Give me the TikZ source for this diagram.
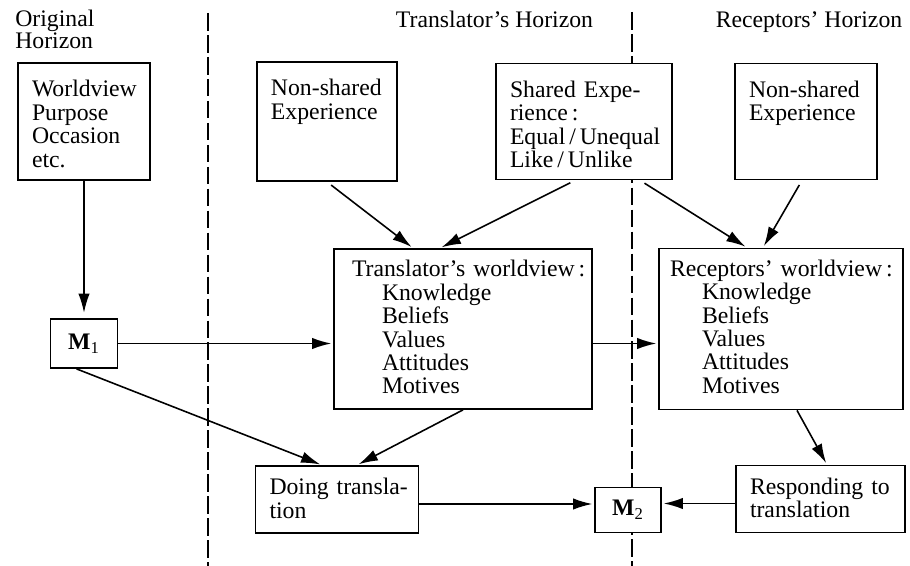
\documentclass[tikz,border=0pt]{standalone}
\usepackage{fontspec}
\setmainfont{Liberation Serif}
\usepackage{tikz}
\usetikzlibrary{positioning}
\usetikzlibrary{arrows.meta}
\tikzset{>=latex}
\hyphenpenalty=10000
\exhyphenpenalty=10000
\tikzstyle{mybox}=[draw, fill=white, line width=1pt, align=left, inner ysep=0pt, inner xsep=0.28cm]
\tikzstyle{upper}=[mybox, text height=0.68cm]
\tikzstyle{worldview}=[mybox, text height=0.56cm]
\tikzstyle{action}=[mybox, text height=0.58cm]
\tikzstyle{message}=[draw, fill=white, line width=1pt, inner sep=0pt]
\tikzstyle{horizon}=[inner sep=0pt]
\tikzstyle{divider}=[line width=1.2pt, dash pattern=on 10pt off 2.5pt]
\tikzstyle{connect arrow}=[-{Latex[length=11pt,width=6.5pt]},line width=0.9pt,shorten >=1pt]

\begin{document}
\begin{tikzpicture}[
    node distance=3cm,
    on grid,
    font=\fontsize{13.5}{13.3}\selectfont]

\useasboundingbox (0,0) rectangle (18.2,-11.32);

% Horizons
\node[horizon, anchor=north west, align=left, font=\fontsize{13.5}{12.3}\selectfont] (orig) at (0.30,-0.20) {Original\\Horizon};
\node[horizon, anchor=base] (trans) at (9.89,-0.56) {Translator's Horizon};
\node[horizon, anchor=base] (recep) at (16.18,-0.56) {Receptors' Horizon};

\coordinate (d1top) at (4.16,-0.26);
\coordinate (d1bot) at (4.16,-11.32);
\coordinate (d2top) at (12.64,-0.24);
\coordinate (d2bot) at (12.64,-11.32);
\draw[divider] (d1top) -- (d1bot);
\draw[divider] (d2top) -- (d2bot);

% Experience
\node[upper, text width=2.08cm, text depth=1.66cm] (wv) at (1.68,-2.43) {Worldview\\Purpose\\Occasion\\etc.};
\node[upper, text width=2.24cm, text depth=1.70cm] (ns1) [right=4.86cm of wv] {Non-shared\\Experience};
\node[upper, text width=2.96cm, text depth=1.64cm] (shared) [right=5.14cm of ns1] {Shared~Expe-\\rience\,:\\Equal\,/\,Unequal\\Like\,/\,Unlike};
\node[upper, text width=2.28cm, text depth=1.64cm] (ns2) [right=4.44cm of shared] {Non-shared\\Experience};

% Worldviews
\node[worldview, inner xsep=0.36cm, text width=4.44cm, text depth=2.64cm] (twv) [below right=4.15cm and 2.72cm of ns1] {Translator's~worldview\,:\\\hspace*{0.6cm}Knowledge\\\hspace*{0.6cm}Beliefs\\\hspace*{0.6cm}Values\\\hspace*{0.6cm}Attitudes\\\hspace*{0.6cm}Motives};
\node[worldview, inner xsep=0.22cm, text width=4.44cm, text depth=2.66cm] (rwv) [right=6.36cm of twv] {Receptors'~worldview\,:\\\hspace*{0.64cm}Knowledge\\\hspace*{0.64cm}Beliefs\\\hspace*{0.64cm}Values\\\hspace*{0.64cm}Attitudes\\\hspace*{0.64cm}Motives};

% Messages
\node[message, minimum width=1.34cm, minimum height=0.98cm] (m1) [below=4.44cm of wv] {\textbf{M}\textsubscript{1}};
\node[action, text width=2.70cm, text depth=0.76cm] (doing) [below right=3.12cm and 5.06cm of m1] {Doing~transla-\\tion};
\node[action, text width=2.82cm, text depth=0.76cm] (resp) [below right=3.40cm and 0.79cm of rwv] {Responding~to\\translation};
\node[message, minimum width=1.32cm, minimum height=0.90cm] (m2) [below left=0.22cm and 3.85cm of resp] {\textbf{M}\textsubscript{2}};

\begin{scope}[connect arrow]
    % messages
    \draw [shorten >=3pt] (wv) -- (m1);
    \draw (m1.east) -- (m1.east -| twv.west);
    \draw ([xshift=-0.15cm]m1.south) -- ([xshift=-0.3cm]doing.north);
    \draw (twv.south) -- ([xshift=0.4cm]doing.north);
    \draw (m1.east -| twv.east) -- (m1.east -| rwv.west);
    \draw ([yshift=-0.09cm]doing.east) -- ([yshift=-0.09cm]doing.east -| m2.west);
    \draw ([yshift=-0.09cm]resp.west) -- ([yshift=-0.09cm]resp.west -| m2.east);
    \draw ([xshift=0.32cm]rwv.south) -- ([xshift=0.13cm]resp.north);

    % experience to worldviews
    \draw [shorten <=3pt] (ns1.south) -- ([xshift=-1.0cm]twv.north);
    \draw [shorten <=3pt] ([xshift=-0.18cm]shared.south) -- ([xshift=-0.46cm]twv.north);
    \draw [shorten <=3pt] ([xshift=1.12cm]shared.south) -- ([xshift=-0.68cm]rwv.north);
    \draw [shorten <=3pt] ([xshift=-0.08cm]ns2.south) -- ([xshift=-0.36cm]rwv.north);
\end{scope}

\end{tikzpicture}
\end{document}
